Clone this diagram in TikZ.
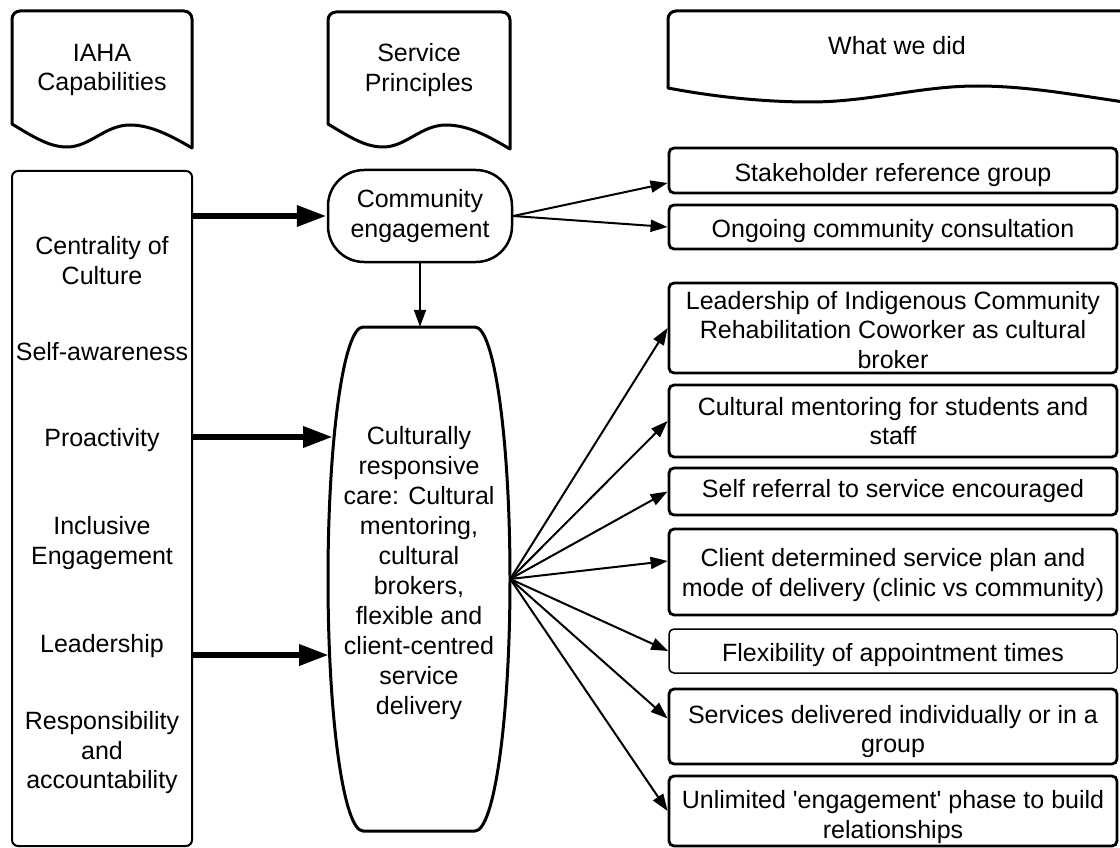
\documentclass[tikz,border=0pt]{standalone}
\usepackage{fontspec}
\setmainfont{Liberation Sans}
\usetikzlibrary{arrows.meta}
\newcommand\mylift[1]{\rule{0pt}{#1}}
\begin{document}
\begin{tikzpicture}[x=1pt,y=-1pt,
  every node/.style={font=\fontsize{25}{29.5}\selectfont, align=center, inner sep=0pt},
  rbox/.style={draw, line width=2.8pt, rounded corners=5pt, minimum width=448pt},
  thinarrow/.style={line width=2pt, -{Triangle[length=17pt,width=12pt]}},
  thickarrow/.style={line width=6.5pt, -{Triangle[length=30pt,width=20pt]}},
  hdrline/.style={line width=3pt, line cap=round, line join=round}
]
\useasboundingbox (0,0) rectangle (1120,848);
\clip (0,0) rectangle (1120,848);

% ---- headers ----
\draw[hdrline, rounded corners=8pt] (12,124) -- (12,11) -- (192,11) -- (192,148);
\draw[hdrline] (192,148) .. controls (170,135) and (150,125) .. (130,125)
  .. controls (105,125) and (90,147) .. (67,147)
  .. controls (50,147) and (35,138) .. (12,124);
\node (h1) at (102,70) {IAHA\\Capabilities};

\begin{scope}[xshift=316pt]
\draw[hdrline, rounded corners=8pt] (12,124) -- (12,12) -- (194,12) -- (194,149);
\draw[hdrline] (194,149) .. controls (172,136) and (152,125) .. (130,125)
  .. controls (105,125) and (90,147) .. (67,147)
  .. controls (50,147) and (35,138) .. (12,124);
\end{scope}
\node (h2) at (419,70) {Service\\Principles};

\draw[hdrline, rounded corners=8pt] (668,88) -- (668,11) -- (1138,11) -- (1138,104);
\draw[hdrline] (1138,104) .. controls (1080,96) and (1030,86) .. (977,86)
  .. controls (920,86) and (870,102) .. (810,102)
  .. controls (760,102) and (710,96) .. (668,88);
\node (h3) at (897,46) {What we did};

% ---- left column ----
\node[draw, line width=2pt, rounded corners=6pt, minimum width=180pt, minimum height=675pt] (lb) at (102,508.5) {};
\node (l1) at (102,260.5) {Centrality of\\Culture};
\node (l2) at (102,352) {Self-awareness};
\node (l3) at (102,440) {Proactivity};
\node (l4) at (102,543) {Inclusive\\Engagement};
\node (l5) at (102,646) {Leadership};
\node (l6) at (102,753) {Responsibility\\and\\accountability};

% ---- middle column ----
\node[draw, line width=2.5pt, rounded corners=36pt, minimum width=184pt, minimum height=92pt] (ce) at (420,216) {Community\\engagement};

\node[minimum width=182pt, minimum height=504pt] (cr) at (419,579) {};
\draw[line width=3pt, line join=round] (363,327) -- (475,327)
  arc[start angle=90, end angle=-90, x radius=35pt, y radius=252pt]
  -- (363,831)
  arc[start angle=270, end angle=90, x radius=35pt, y radius=252pt] -- cycle;
\node[font=\fontsize{25}{30}\selectfont] (crt) at (419,573) {Culturally\\responsive\\care: Cultural\\mentoring,\\cultural\\brokers,\\flexible and\\client-centred\\service\\delivery};
\coordinate (crL1) at (333,437);
\coordinate (crL2) at (329,655);

% ---- right column ----
\node[rbox, minimum height=45pt] (b1) at (893,170.5) {\mylift{28pt}Stakeholder reference group};
\node[rbox, minimum height=44pt] (b2) at (893,227) {\mylift{26pt}Ongoing community consultation};
\node[rbox, minimum height=90pt] (b3) at (893,328) {\mylift{22pt}Leadership of Indigenous Community\\Rehabilitation Coworker as cultural\\broker};
\node[rbox, minimum height=72pt] (b4) at (893,421) {Cultural mentoring for students and\\staff};
\node[rbox, minimum height=47pt] (b5) at (893,491.5) {Self referral to service encouraged};
\node[rbox, minimum height=86pt] (b6) at (893,572) {\mylift{24pt}Client determined service plan and\\mode of delivery (clinic vs community)};
\node[rbox, line width=1.5pt, minimum height=44pt] (b7) at (893,651) {\mylift{26pt}Flexibility of appointment times};
\node[rbox, minimum height=75pt] (b8) at (893,726.5) {\mylift{28pt}Services delivered individually or in a\\group};
\node[rbox, minimum height=70pt] (b9) at (893,811) {\mylift{30pt}Unlimited \textquotesingle engagement\textquotesingle\ phase to build\\relationships};

% ---- connectors ----
\draw[thickarrow] (lb.east |- ce.west) -- (ce.west);
\draw[thickarrow] (lb.east |- crL1) -- (crL1);
\draw[thickarrow] (lb.east |- crL2) -- (crL2);

\draw[thinarrow] (ce.south) -- (ce.south |- cr.north);
\draw[thinarrow] (ce.east) -- ([yshift=-12.5pt]b1.west);
\draw[thinarrow] (ce.east) -- (b2.west);

\draw[thinarrow] (cr.east) -- (b3.west);
\draw[thinarrow] (cr.east) -- (b4.west);
\draw[thinarrow] (cr.east) -- (b5.west);
\draw[thinarrow] (cr.east) -- ([yshift=11pt]b6.west);
\draw[thinarrow] (cr.east) -- (b7.west);
\draw[thinarrow] (cr.east) -- ([yshift=8pt]b8.west);
\draw[thinarrow] (cr.east) -- (b9.west);
\end{tikzpicture}
\end{document}
